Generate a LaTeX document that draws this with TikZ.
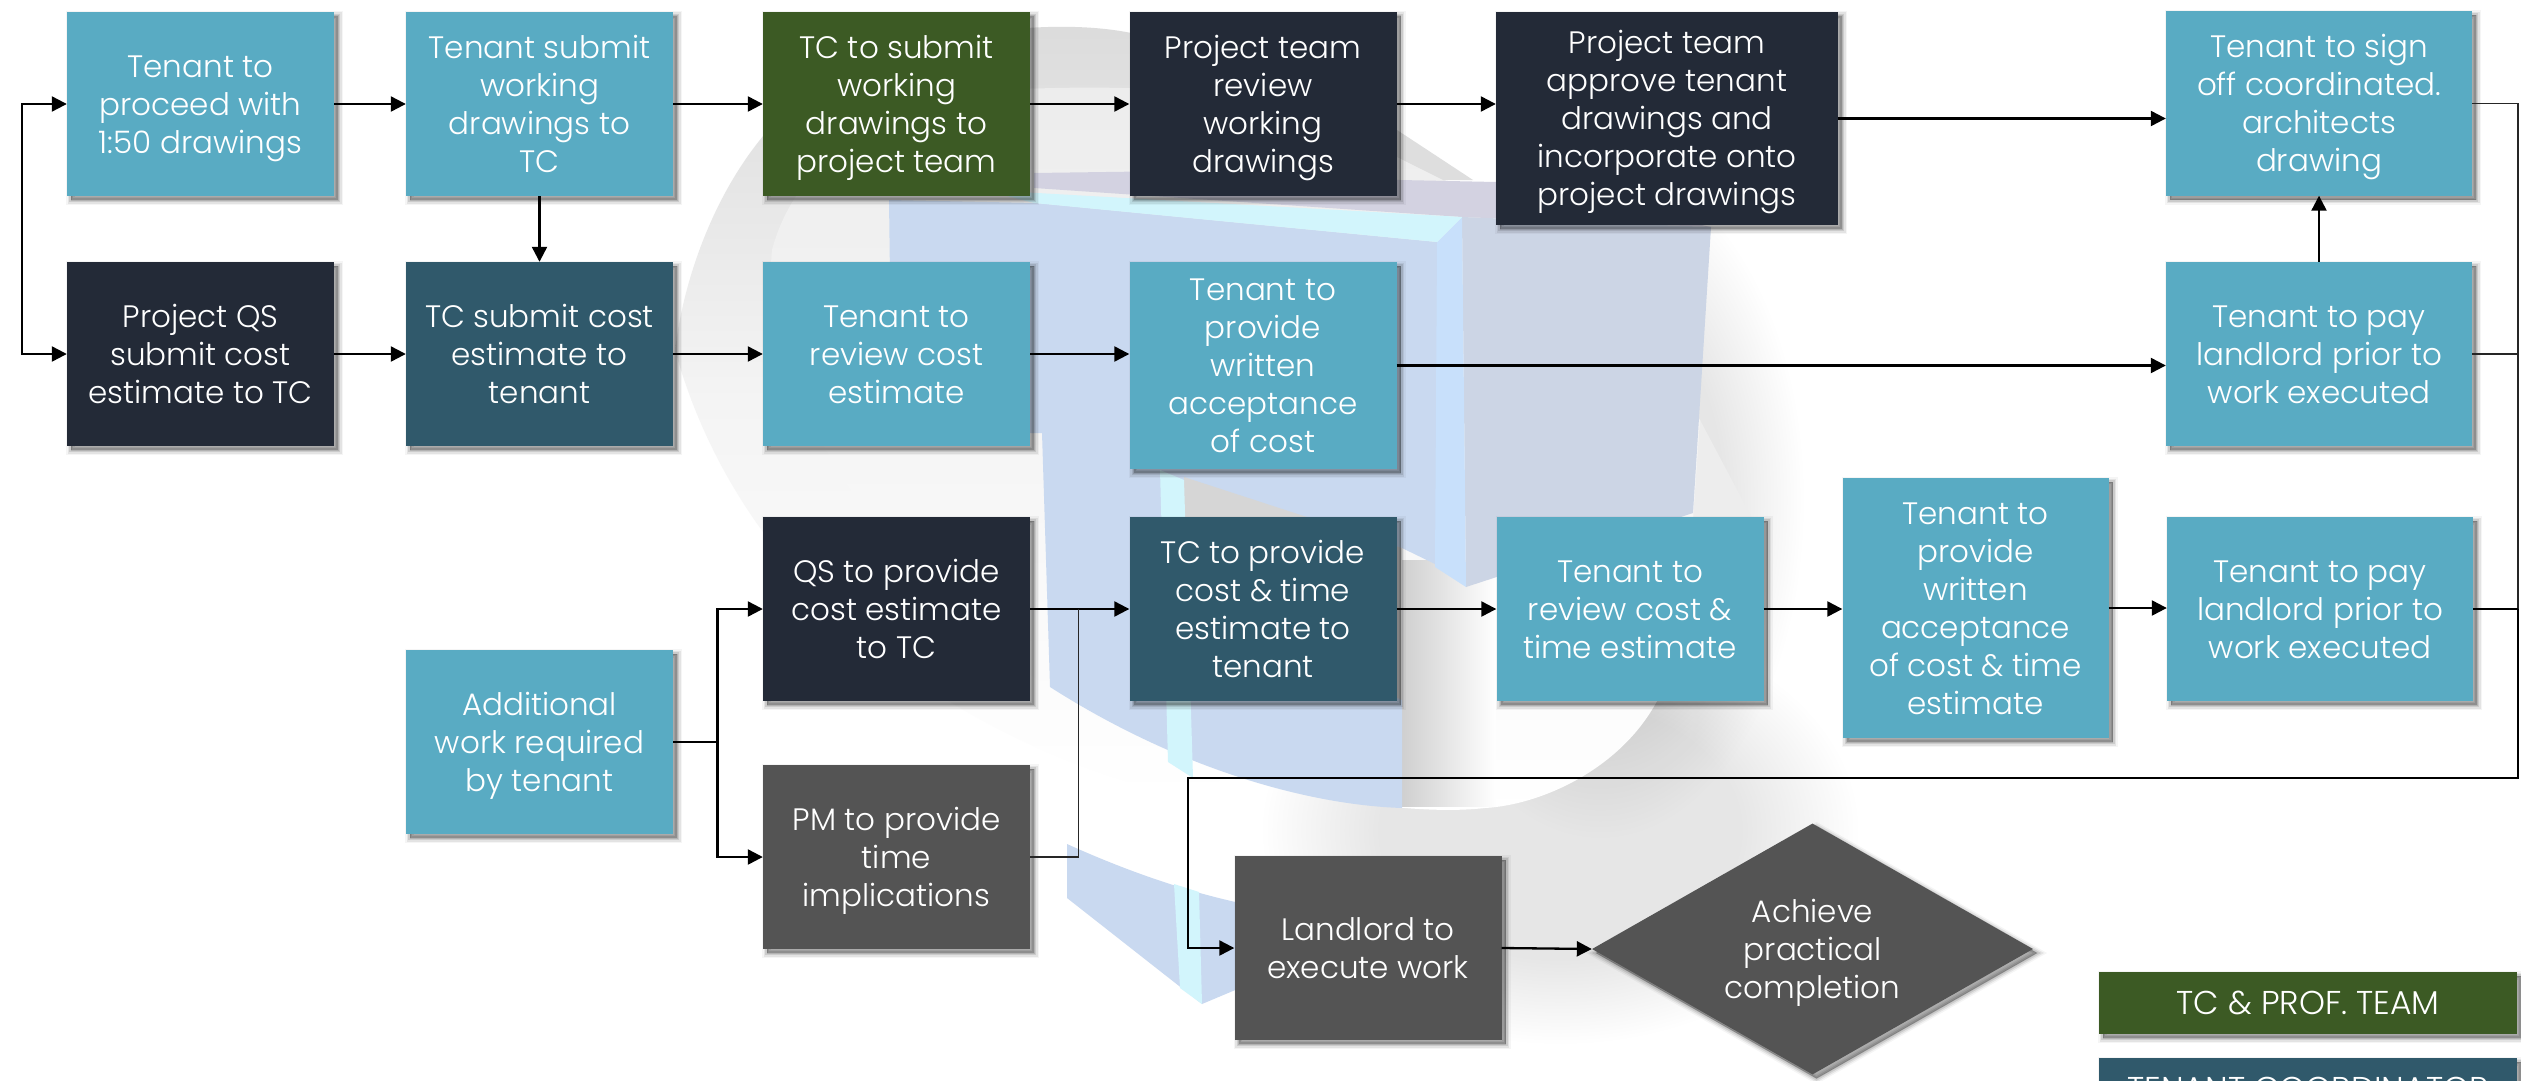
\documentclass[tikz,border=0pt]{standalone}
\usepackage{fontspec}
\setmainfont{Poppins}[UprightFont=* Light]
\usetikzlibrary{arrows.meta,shapes.geometric,shadows}
\definecolor{cteal}{HTML}{59ABC3}
\definecolor{cnavy}{HTML}{232A37}
\definecolor{cdteal}{HTML}{30596B}
\definecolor{cgreen}{HTML}{3C5A24}
\definecolor{cgrey}{HTML}{545454}
\definecolor{bgblue}{HTML}{C9D9F0}
\definecolor{bgstrip}{HTML}{C8E0FB}
\definecolor{bgcyan}{HTML}{D2F5FC}
\definecolor{bgpanel}{HTML}{CCD5E5}
\definecolor{bgpurple}{HTML}{D3D2E1}
\definecolor{bgring}{HTML}{E6E6E6}
\definecolor{bgpale}{HTML}{F4F4F4}
\pgfdeclareradialshading{plateau}{\pgfpointorigin}{color(0bp)=(bgring);color(15bp)=(bgring);color(25bp)=(white);color(50bp)=(white)}
\newcommand\ts{\rule{0pt}{33pt}}
\newcommand\te{\rule[-11pt]{0pt}{11pt}}
\tikzset{
  softshadow/.style={
    general shadow={shadow xshift=4pt,shadow yshift=-4pt,fill=black,draw=black,line width=10pt,opacity=.04},
    general shadow={shadow xshift=4pt,shadow yshift=-4pt,fill=black,draw=black,line width=7pt,opacity=.07},
    general shadow={shadow xshift=4pt,shadow yshift=-4pt,fill=black,draw=black,line width=4pt,opacity=.10},
    general shadow={shadow xshift=4pt,shadow yshift=-4pt,fill=black,draw=black,line width=1pt,opacity=.12}},
  flowbox/.style={rectangle,softshadow,draw=none,text=white,inner sep=0pt,align=center,
    minimum width=267pt,minimum height=184pt,font=\fontsize{31}{38}\selectfont},
  tealbox/.style={flowbox,fill=cteal},
  navybox/.style={flowbox,fill=cnavy},
  dtealbox/.style={flowbox,fill=cdteal},
  greenbox/.style={flowbox,fill=cgreen},
  greybox/.style={flowbox,fill=cgrey},
  flowdiamond/.style={diamond,aspect=1.76,softshadow,fill=cgrey,text=white,inner sep=0pt,align=center,
    minimum width=441pt,minimum height=251pt,font=\fontsize{31}{38}\selectfont},
  legendbox/.style={rectangle,softshadow,text=white,inner sep=0pt,
    minimum width=418pt,minimum height=62pt,font=\fontsize{33}{38}\selectfont},
  link/.style={draw=black,line width=2.3pt},
  thinlink/.style={draw=black!85,line width=1.3pt},
  arrowed/.style={-{Triangle[length=15pt,width=15pt]}},
  twoarrowed/.style={{Triangle[length=15pt,width=15pt]}-{Triangle[length=15pt,width=15pt]}}
}
\begin{document}
\begin{tikzpicture}[x=1pt,y=-1pt]
\useasboundingbox (0,0) rectangle (2521,1081);
\clip (0,0) rectangle (2521,1081);
\fill[white] (0,0) rectangle (2521,1081);
% ---------- watermark ----------
\begin{scope}
  \shade[shading=plateau,blend mode=multiply] (1600,500) ellipse [x radius=205pt,y radius=340pt];
  \shade[shading=plateau,blend mode=multiply] (1560,830) ellipse [x radius=300pt,y radius=215pt];
  \begin{scope}
    \clip (675,350) .. controls (690,230) and (760,90) .. (880,55)
       .. controls (980,25) and (1080,20) .. (1140,35)
       .. controls (1250,50) and (1340,85) .. (1397,133)
       -- (1397,600) -- (1200,800) .. controls (1000,760) and (750,620) .. (675,350) -- cycle;
    \shade[top color=black!14,bottom color=bgpale] (675,20) rectangle (1400,400);
    \shade[top color=bgpale,bottom color=white] (675,400) rectangle (1400,800);
  \end{scope}
  % inner pale crescent
  \shade[top color=bgring!75,middle color=white,bottom color=white]
     (772,250) .. controls (790,180) and (860,100) .. (1000,90)
     .. controls (1200,80) and (1350,100) .. (1443,178)
     -- (1700,420) .. controls (1700,560) and (1680,670) .. (1657,701)
     .. controls (1620,770) and (1540,805) .. (1485,808)
     .. controls (1400,818) and (1200,790) .. (1050,687)
     .. controls (960,630) and (890,560) .. (824,447)
     .. controls (790,380) and (765,320) .. (772,250) -- cycle;
  \shade[left color=black!20,right color=white] (1396,560) rectangle (1496,806);
  \fill[white] (1397,60) -- (1500,60) -- (1500,181) -- (1473,180) -- (1397,133) -- cycle;
  \fill[black!13] (1397,130) -- (1473,180) -- (1443,180) -- (1397,157) -- cycle;
  \fill[black!7] (1700,420) -- (1753,520) -- (1693,520) -- cycle;
  % panels of the book
  \fill[bgpurple] (1034,173) -- (1250,170) -- (1400,180) -- (1496,182) -- (1711,227) -- (1462,217) -- (1034,188) -- cycle;
  \fill[bgpanel] (1462,217) -- (1711,227) -- (1693,513) -- (1466,587) -- cycle;
  \fill[bgblue] (889,200) -- (1036,203) -- (1437,242) -- (1437,565) -- (1402,548)
     -- (1402,808) .. controls (1310,805) and (1180,770) .. (1050,687)
     -- (1042,433) -- (892,433) -- cycle;
  \fill[black!16] (1184,477) -- (1402,548) -- (1402,700) -- (1184,600) -- cycle;
  \fill[bgstrip] (1437,242) -- (1462,217) -- (1466,587) -- (1435,567) -- cycle;
  \fill[bgcyan] (984,190) -- (1462,217) -- (1437,242) -- (1034,203) -- cycle;
  \fill[bgcyan] (1160,470) -- (1184,480) -- (1193,778) -- (1168,762) -- cycle;
  \fill[bgblue] (1067,844) .. controls (1120,868) and (1180,890) .. (1240,903)
     -- (1240,988) -- (1202,1004) -- (1067,898) -- cycle;
  \fill[bgcyan] (1174,884) -- (1199,892) -- (1202,1004) -- (1180,988) -- cycle;
\end{scope}
% ---------- nodes ----------
\node[tealbox] (proceed) at (200.5,104) {\ts Tenant to\\proceed with\\1:50 drawings\te};
\node[navybox] (qs) at (200.5,354) {\ts Project QS\\submit cost\\estimate to TC\te};
\node[tealbox] (submit) at (539.5,104) {\ts Tenant submit\\working\\drawings to\\TC\te};
\node[dtealbox] (tccost) at (539.5,354) {\ts TC submit cost\\estimate to\\tenant\te};
\node[greenbox] (tcsubmit) at (896.5,104) {\ts TC to submit\\working\\drawings to\\project team\te};
\node[tealbox] (review) at (896.5,354) {\ts Tenant to\\review cost\\estimate\te};
\node[navybox] (teamreview) at (1263,104) {\ts Project team\\review\\working\\drawings\te};
\node[tealbox,minimum height=207pt] (accept) at (1263,365.5) {\ts Tenant to\\provide\\written\\acceptance\\of cost\te};
\node[navybox,minimum width=342pt,minimum height=213pt] (approve) at (1667,118.5) {\ts Project team\\approve tenant\\drawings and\\incorporate onto\\project drawings\te};
\node[tealbox,minimum width=306pt] (signoff) at (2319,103.5) {\ts Tenant to sign\\off coordinated.\\architects\\drawing\te};
\node[tealbox,minimum width=306pt] (payone) at (2319,354) {\ts Tenant to pay\\landlord prior to\\work executed\te};
\node[tealbox] (additional) at (539.5,742) {\ts Additional\\work required\\by tenant\te};
\node[navybox] (qsprov) at (896.5,609) {\ts QS to provide\\cost estimate\\to TC\te};
\node[greybox] (pm) at (896.5,857) {\ts PM to provide\\time\\implications\te};
\node[dtealbox] (tcprov) at (1263,609) {\ts TC to provide\\cost \& time\\estimate to\\tenant\te};
\node[tealbox] (reviewtime) at (1630,609) {\ts Tenant to\\review cost \&\\time estimate\te};
\node[tealbox,minimum width=266pt,minimum height=260pt] (accepttime) at (1975.5,608) {\ts Tenant to\\provide\\written\\acceptance\\of cost \& time\\estimate\te};
\node[tealbox,minimum width=306pt] (paytwo) at (2320,609) {\ts Tenant to pay\\landlord prior to\\work executed\te};
\node[greybox] (landlord) at (1368,948) {\ts Landlord to\\execute work\te};
\node[flowdiamond] (complete) at (1812.5,949) {\ts Achieve\\practical\\completion\te};
\node[legendbox,fill=cgreen] (legendone) at (2308,1003) {\ts TC \& PROF. TEAM\te};
\node[legendbox,fill=cdteal] (legendtwo) at (2308,1089) {\ts TENANT COORDINATOR\te};
% ---------- free connector points ----------
\coordinate (leftrail) at (22,104);
\coordinate (rightrail) at (2518,778);
\coordinate (returnleft) at (1188,778);
\coordinate (splitone) at (717.5,742);
\coordinate (mergeone) at (1078.5,609);
% ---------- connectors ----------
\draw[link,twoarrowed] (proceed.west) -- (leftrail) |- (qs.west);
\draw[link,arrowed] (proceed.east) -- (submit.west);
\draw[link,arrowed] (submit.east) -- (tcsubmit.west);
\draw[link,arrowed] (tcsubmit.east) -- (teamreview.west);
\draw[link,arrowed] (teamreview.east) -- (teamreview.east -| approve.west);
\draw[link,arrowed] (approve.east) -- (approve.east -| signoff.west);
\draw[link,arrowed] (submit.south) -- (tccost.north);
\draw[link,arrowed] (qs.east) -- (tccost.west);
\draw[link,arrowed] (tccost.east) -- (review.west);
\draw[link,arrowed] (review.east) -- (review.east -| accept.west);
\draw[link,arrowed] (accept.east) -- (accept.east -| payone.west);
\draw[link,arrowed] (payone.north) -- (signoff.south);
\draw[thinlink] (signoff.east) -| (rightrail);
\draw[thinlink] (payone.east) -- (payone.east -| rightrail);
\draw[link] (splitone -| additional.east) -- (splitone);
\draw[link,arrowed] (splitone) |- (qsprov.west);
\draw[link,arrowed] (splitone) |- (pm.west);
\draw[link,arrowed] (qsprov.east) -- (tcprov.west);
\draw[thinlink] (pm.east) -| (mergeone);
\draw[link,arrowed] (tcprov.east) -- (reviewtime.west);
\draw[link,arrowed] (reviewtime.east) -- (reviewtime.east -| accepttime.west);
\draw[link,arrowed] (accepttime.east) -- (accepttime.east -| paytwo.west);
\draw[link] (paytwo.east) -- (paytwo.east -| rightrail);
\draw[link,arrowed] (paytwo.east -| rightrail) -- (rightrail) -- (returnleft) |- (landlord.west);
\draw[link,arrowed] (landlord.east) -- (complete.west);
\end{tikzpicture}
\end{document}
